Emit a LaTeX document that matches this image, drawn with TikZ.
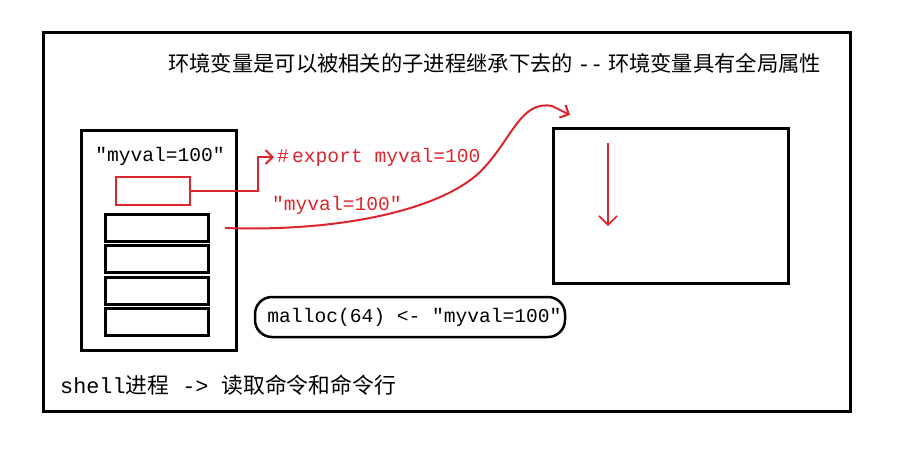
\documentclass[tikz,border=0pt]{standalone}
\usepackage{fontspec}
\setmonofont{Liberation Mono}
\newfontfamily\cjk{Noto Sans CJK SC}
\usetikzlibrary{arrows.meta}
\definecolor{pen}{RGB}{222,36,44}
\tikzset{frame/.style={draw, line width=3pt, inner sep=0pt},
  slot/.style={frame, minimum width=103pt, minimum height=27pt},
  code/.style={font=\ttfamily\fontsize{19.6}{22}\selectfont, inner sep=0pt},
  zh/.style={font=\cjk\fontsize{21.3}{24}\selectfont, inner sep=0pt},
  barb/.style={-{Straight Barb[length=7pt,width=14pt]}}}

\begin{document}
\begin{tikzpicture}[x=1pt,y=-1pt]
  \useasboundingbox (0,0) rectangle (908,451);
  \draw[line width=3pt] (43,32) rectangle (850,411);
  \node[zh, anchor=west] (title) at (168,63)
    {环境变量是可以被相关的子进程继承下去的\ \texttt{-{}-}\ 环境变量具有全局属性};

  % shell process
  \node[frame, minimum width=155pt, minimum height=220pt] (shell) at (159,240) {};
  \node[code] (val) at (160,156) {″myval=100″};
  \node[frame, draw=pen, line width=2.5pt, minimum width=74pt, minimum height=28pt] (env) at (153,191) {};
  \foreach \y [count=\i] in {228,259,291,322}
    \node[slot] (slot\i) at (157,\y) {};
  \node[zh, anchor=west, font=\cjk\fontsize{21.8}{26}\selectfont] (note) at (60,385)
    {\texttt{shell}进程\texttt{ -{}> }读取命令和命令行};

  % export
  \node[code, pen, anchor=west] (export) at (277,157) {\#\,export myval=100};
  \coordinate (bend) at (258,191);
  \draw[pen, line width=2pt, barb, shorten >=3pt] (env.east) -- (bend) |- (export.west);
  \node[code, pen, anchor=west] (copy) at (272,205) {″myval=100″};

  % child process
  \node[frame, minimum width=235pt, minimum height=155pt] (child) at (670.5,205.5) {};
  \coordinate (tip) at (570,115);
  \draw[pen, line width=2pt, barb] ([xshift=15pt]slot1.east)
    .. controls (340,232) and (440,210) .. (480,172)
    .. controls (512,140) and (520,100) .. (552,106) -- (tip);
  \coordinate (top) at (608,143);
  \coordinate (bottom) at (608,226);
  \draw[pen, line width=1.6pt, -{Straight Barb[length=9pt,width=18pt]}] (top) -- (bottom);

  \node[code, draw, line width=2.5pt, rounded corners=17pt, minimum width=310pt,
    minimum height=40pt] (malloc) at (410,317) {\hspace*{9pt}malloc(64) <- ″myval=100″};
\end{tikzpicture}
\end{document}
